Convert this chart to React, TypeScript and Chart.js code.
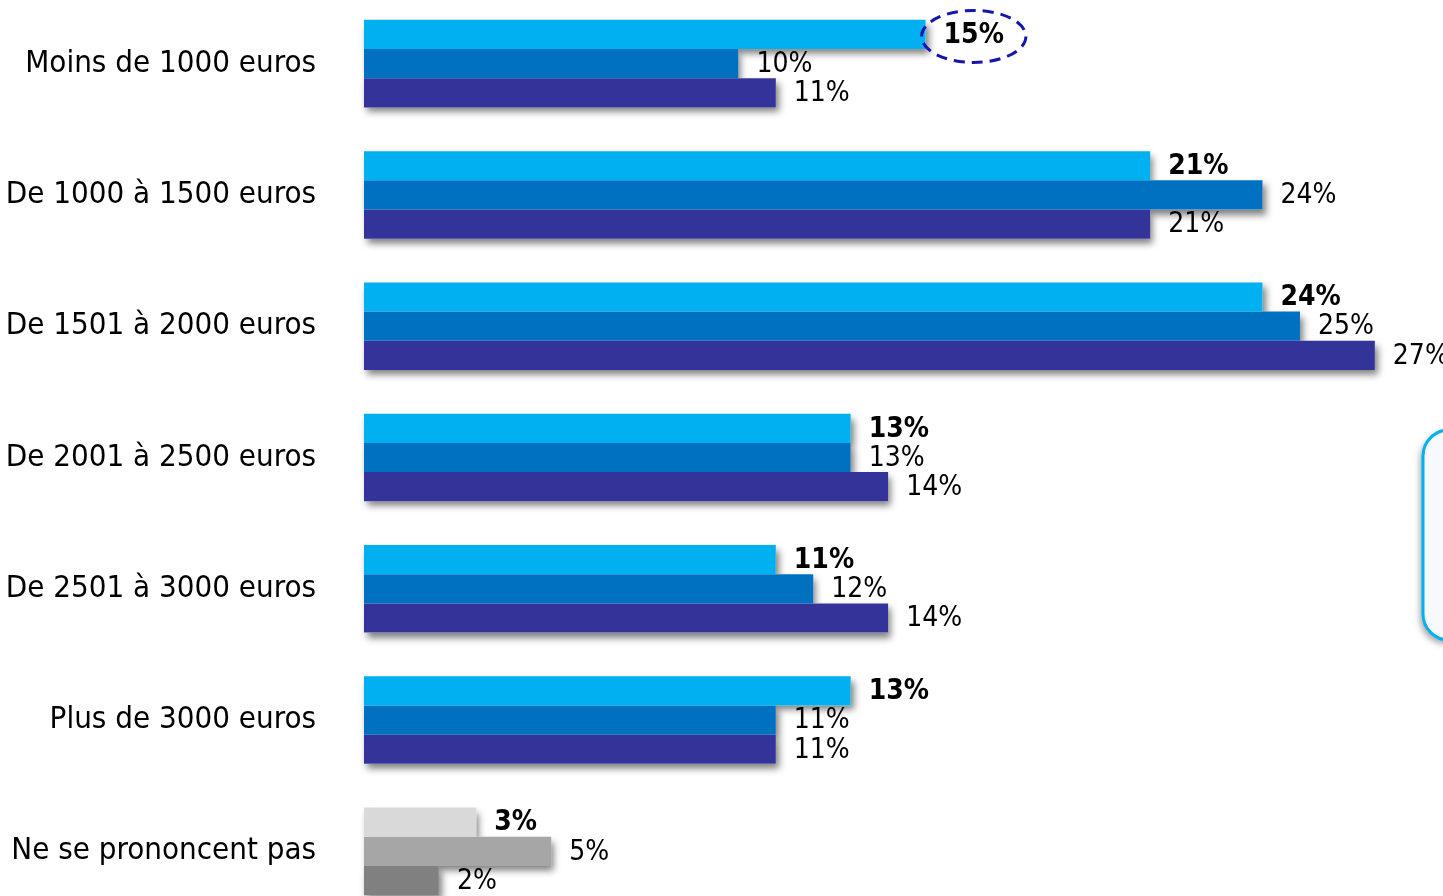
import React, { useEffect, useRef } from "react";
import { Chart, registerables } from "chart.js";

Chart.register(...registerables);

const categories = [
  "Moins de 1000 euros",
  "De 1000 à 1500 euros",
  "De 1501 à 2000 euros",
  "De 2001 à 2500 euros",
  "De 2501 à 3000 euros",
  "Plus de 3000 euros",
  "Ne se prononcent pas",
];
const series1 = [15, 21, 24, 13, 11, 13, 3];
const series2 = [10, 24, 25, 13, 12, 11, 5];
const series3 = [11, 21, 27, 14, 14, 11, 2];
const seriesColors = ["#00B0F0", "#0070C0", "#333399"];
const grayColors = ["#D9D9D9", "#A6A6A6", "#808080"];
const grayCategory = "Ne se prononcent pas";
const highlightIndex = 0;

const FONT = "'DejaVu Sans Condensed', 'DejaVu Sans', sans-serif";

export default function App() {
  const ref = useRef<HTMLCanvasElement | null>(null);

  useEffect(() => {
    const canvas = ref.current;
    if (!canvas) return;
    const colorsFor = (si: number) =>
      categories.map((c) => (c === grayCategory ? grayColors[si] : seriesColors[si]));

    const shadowPlugin = {
      id: "barShadow",
      beforeDatasetsDraw(chart: any) {
        const ctx = chart.ctx;
        ctx.save();
        ctx.shadowColor = "rgba(0,0,0,0.5)";
        ctx.shadowBlur = 7;
        ctx.shadowOffsetX = 3;
        ctx.shadowOffsetY = 5;
        ctx.fillStyle = "#ffffff";
        chart.data.datasets.forEach((_ds: any, di: number) => {
          const meta = chart.getDatasetMeta(di);
          meta.data.forEach((el: any) => {
            const p = el.getProps(["x", "y", "base", "height"], true);
            ctx.fillRect(p.base, p.y - p.height / 2, p.x - p.base, p.height);
          });
        });
        ctx.restore();
      },
    };

    const labelPlugin = {
      id: "valueLabels",
      afterDraw(chart: any) {
        const ctx = chart.ctx;
        ctx.save();
        chart.data.datasets.forEach((ds: any, di: number) => {
          const meta = chart.getDatasetMeta(di);
          meta.data.forEach((el: any, i: number) => {
            const text = ds.data[i] + "%";
            ctx.font = (di === 0 ? "bold " : "") + "28px " + FONT;
            ctx.fillStyle = "#000";
            ctx.textAlign = "left";
            ctx.textBaseline = "middle";
            const x = el.x + 18;
            const y = el.y + 1;
            ctx.fillText(text, x, y);
            if (di === 0 && i === highlightIndex) {
              const w = ctx.measureText(text).width;
              ctx.beginPath();
              ctx.ellipse(x + w / 2, y + 1, w / 2 + 22, 26, 0, 0, Math.PI * 2);
              ctx.setLineDash([11, 7]);
              ctx.lineWidth = 3;
              ctx.strokeStyle = "#1515B0";
              ctx.stroke();
              ctx.setLineDash([]);
            }
          });
        });
        // side callout box (partially visible at right edge)
        ctx.save();
        ctx.shadowColor = "rgba(0,0,0,0.35)";
        ctx.shadowBlur = 6;
        ctx.shadowOffsetX = -3;
        ctx.shadowOffsetY = 4;
        ctx.beginPath();
        ctx.roundRect(1423, 432, 80, 210, 26);
        ctx.fillStyle = "#F6FAFE";
        ctx.fill();
        ctx.restore();
        ctx.beginPath();
        ctx.roundRect(1423, 432, 80, 210, 26);
        ctx.lineWidth = 3;
        ctx.strokeStyle = "#00B0F0";
        ctx.stroke();
        ctx.restore();
      },
    };

    const chart = new Chart(canvas, {
      type: "bar",
      data: {
        labels: categories,
        datasets: [
          { data: series1, backgroundColor: colorsFor(0) },
          { data: series2, backgroundColor: colorsFor(1) },
          { data: series3, backgroundColor: colorsFor(2) },
        ],
      },
      options: {
        indexAxis: "y",
        responsive: false,
        animation: false,
        devicePixelRatio: 1,
        layout: { padding: { left: 0, right: 12, top: 0, bottom: 0 } },
        datasets: {
          bar: { barPercentage: 1, categoryPercentage: 0.667, borderWidth: 0 },
        },
        plugins: {
          legend: { display: false },
          tooltip: { enabled: false },
        },
        scales: {
          x: { display: false, min: 0, max: 28.5 },
          y: {
            grid: { display: false, drawTicks: false },
            border: { display: false },
            ticks: {
              color: "#000",
              padding: 48,
              font: { size: 31, family: FONT },
            },
            afterFit(scale: any) {
              scale.width = 364;
              scale.paddingTop = 0;
              scale.paddingBottom = 0;
            },
          },
        },
      },
      plugins: [shadowPlugin, labelPlugin],
    } as any);
    return () => chart.destroy();
  }, []);

  return (
    <div
      style={{
        position: "fixed",
        left: 0,
        top: 0,
        width: 1443,
        height: 896,
        overflow: "hidden",
        background: "#fff",
      }}
    >
      <canvas
        ref={ref}
        width={1443}
        height={919}
        style={{ display: "block", marginTop: -2, width: 1443, height: 919 }}
      />
    </div>
  );
}
